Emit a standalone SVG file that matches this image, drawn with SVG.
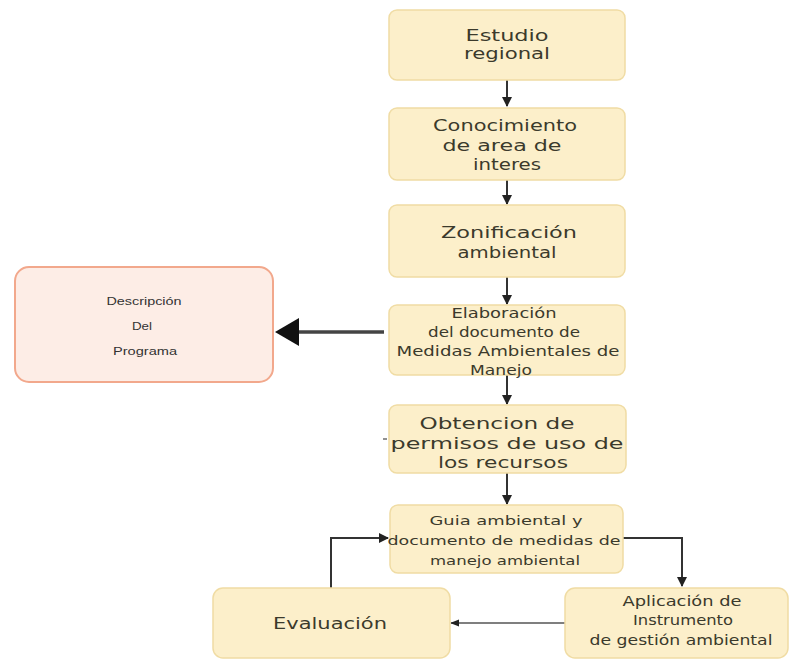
<svg xmlns="http://www.w3.org/2000/svg" width="790" height="659" viewBox="0 0 790 659">
  <defs>
    <style>
      .box { fill: #fcefca; stroke: #f0dca4; stroke-width: 1.5; }
      .pink { fill: #fdede6; stroke: #f2a88c; stroke-width: 2; }
      .t { font-family: "DejaVu Sans", "Liberation Sans", sans-serif; fill: #3b3a2c; text-anchor: middle; }
      .small { font-family: "Liberation Sans Narrow", "Liberation Sans", sans-serif; fill: #333; text-anchor: middle; font-size: 11px; }
      .ln { fill: none; stroke: #333; stroke-width: 2; }
      .thin { fill: none; stroke: #555; stroke-width: 1.3; }
    </style>
    <marker id="ah" viewBox="0 0 10 10" refX="9" refY="5" markerWidth="5" markerHeight="5" orient="auto" markerUnits="strokeWidth">
      <path d="M0,0 L10,5 L0,10 Z" fill="#222"/>
    </marker>
    <marker id="ahs" viewBox="0 0 10 10" refX="9" refY="5" markerWidth="7" markerHeight="7" orient="auto" markerUnits="strokeWidth">
      <path d="M0,1 L10,5 L0,9 Z" fill="#222"/>
    </marker>
  </defs>

  <rect width="790" height="659" fill="#ffffff"/>

  <!-- connectors -->
  <g id="connectors">
    <line class="ln" x1="507" y1="80" x2="507" y2="106" marker-end="url(#ah)"/>
    <line class="ln" x1="507" y1="180" x2="507" y2="204" marker-end="url(#ah)"/>
    <line class="ln" x1="507" y1="277" x2="507" y2="304" marker-end="url(#ah)"/>
    <line class="ln" x1="507" y1="375" x2="507" y2="404" marker-end="url(#ah)"/>
    <line class="ln" x1="507" y1="473" x2="507" y2="504" marker-end="url(#ah)"/>
    <!-- thick arrow to the program description -->
    <line x1="384" y1="332" x2="296" y2="332" stroke="#444" stroke-width="3.5"/>
    <path d="M275,332 L299,318 L299,346 Z" fill="#111"/>
    <!-- feedback loop -->
    <polyline class="ln" points="331,588 331,538 388,538" marker-end="url(#ah)"/>
    <polyline class="ln" points="623,538 682,538 682,586" marker-end="url(#ah)"/>
    <line class="thin" x1="565" y1="623" x2="451" y2="623" marker-end="url(#ahs)"/>
    <line x1="383" y1="439" x2="387" y2="439" stroke="#555" stroke-width="1.3"/>
  </g>

  <g id="estudio">
    <rect class="box" x="389" y="10" width="236" height="70" rx="8"/>
    <text class="t" font-size="16" x="507" y="41" textLength="83" lengthAdjust="spacingAndGlyphs">Estudio</text>
    <text class="t" font-size="16" x="507" y="59" textLength="86" lengthAdjust="spacingAndGlyphs">regional</text>
  </g>

  <g id="conocimiento">
    <rect class="box" x="389" y="108" width="236" height="72" rx="8"/>
    <text class="t" font-size="16" x="505" y="131" textLength="144" lengthAdjust="spacingAndGlyphs">Conocimiento</text>
    <text class="t" font-size="16" x="502" y="151" textLength="119" lengthAdjust="spacingAndGlyphs">de area de</text>
    <text class="t" font-size="16" x="507" y="170" textLength="68" lengthAdjust="spacingAndGlyphs">interes</text>
  </g>

  <g id="zonificacion">
    <rect class="box" x="389" y="205" width="236" height="72" rx="8"/>
    <text class="t" font-size="16" x="509" y="238" textLength="136" lengthAdjust="spacingAndGlyphs">Zonificación</text>
    <text class="t" font-size="16" x="507" y="258" textLength="99" lengthAdjust="spacingAndGlyphs">ambiental</text>
  </g>

  <g id="elaboracion">
    <rect class="box" x="389" y="305" width="236" height="70" rx="8"/>
    <text class="t" font-size="13.5" x="504" y="318" textLength="105" lengthAdjust="spacingAndGlyphs">Elaboración</text>
    <text class="t" font-size="13.5" x="504" y="337" textLength="152" lengthAdjust="spacingAndGlyphs">del documento de</text>
    <text class="t" font-size="13.5" x="508" y="356" textLength="223" lengthAdjust="spacingAndGlyphs">Medidas Ambientales de</text>
    <text class="t" font-size="13.5" x="501" y="375" textLength="62" lengthAdjust="spacingAndGlyphs">Manejo</text>
  </g>

  <g id="descripcion">
    <rect class="pink" x="15" y="267" width="258" height="115" rx="14"/>
    <text class="small" x="144" y="305" textLength="75" lengthAdjust="spacingAndGlyphs">Descripción</text>
    <text class="small" x="142" y="330" textLength="20" lengthAdjust="spacingAndGlyphs">Del</text>
    <text class="small" x="145" y="355" textLength="64" lengthAdjust="spacingAndGlyphs">Programa</text>
  </g>

  <g id="obtencion">
    <rect class="box" x="389" y="405" width="237" height="68" rx="8"/>
    <text class="t" font-size="16.5" x="497" y="429" textLength="155" lengthAdjust="spacingAndGlyphs">Obtencion de</text>
    <text class="t" font-size="16.5" x="507" y="449" textLength="233" lengthAdjust="spacingAndGlyphs">permisos de uso de</text>
    <text class="t" font-size="16.5" x="503" y="468" textLength="130" lengthAdjust="spacingAndGlyphs">los recursos</text>
  </g>

  <g id="guia">
    <rect class="box" x="390" y="505" width="233" height="68" rx="8"/>
    <text class="t" font-size="13" x="506" y="525" textLength="153" lengthAdjust="spacingAndGlyphs">Guia ambiental y</text>
    <text class="t" font-size="13" x="504" y="545" textLength="233" lengthAdjust="spacingAndGlyphs">documento de medidas de</text>
    <text class="t" font-size="13" x="505" y="565" textLength="150" lengthAdjust="spacingAndGlyphs">manejo ambiental</text>
  </g>

  <g id="evaluacion">
    <rect class="box" x="213" y="588" width="237" height="70" rx="10"/>
    <text class="t" font-size="16.5" x="330" y="629" textLength="114" lengthAdjust="spacingAndGlyphs">Evaluación</text>
  </g>

  <g id="aplicacion">
    <rect class="box" x="565" y="588" width="223" height="70" rx="10"/>
    <text class="t" font-size="13.5" x="682" y="606" textLength="119" lengthAdjust="spacingAndGlyphs">Aplicación de</text>
    <text class="t" font-size="13.5" x="683" y="625" textLength="100" lengthAdjust="spacingAndGlyphs">Instrumento</text>
    <text class="t" font-size="13.5" x="681" y="645" textLength="183" lengthAdjust="spacingAndGlyphs">de gestión ambiental</text>
  </g>
</svg>
